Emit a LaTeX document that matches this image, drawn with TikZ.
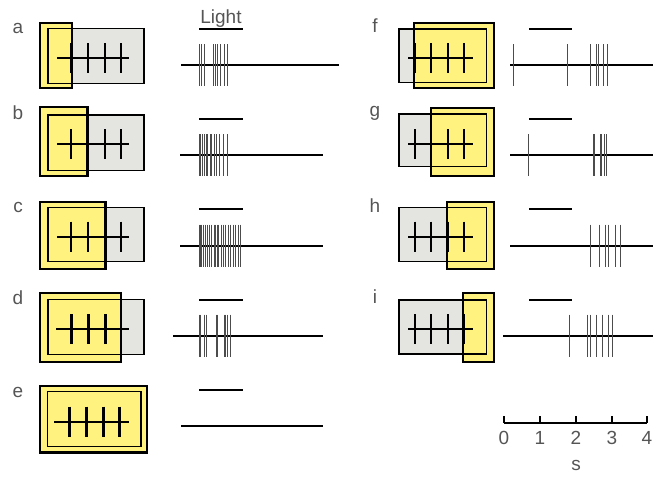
\documentclass[tikz,border=0pt]{standalone}
\usepackage{fontspec}
\setmainfont{Liberation Sans}
\definecolor{rfyellow}{HTML}{FFF27F}
\definecolor{rfgrey}{HTML}{E4E5E0}
\definecolor{labgrey}{HTML}{555555}
\newcommand{\rfbox}[8]{%
  \fill[greyfill] (#1,#3) rectangle (#2,#4);
  \filldraw[yellowbox] (#5,#7) rectangle (#6,#8);
  \draw[greybox] (#1,#3) rectangle (#2,#4);
}
\newcommand{\rfline}[4]{%
  \draw[rfaxis] (#2,#1) -- (#3,#1);
  \foreach \t in {#4} \draw[rftick] (\t,#1-15) -- (\t,#1+15);
}
\newcommand{\spiketrace}[4]{%
  \draw[tracebase] (#2,#1) -- (#3,#1);
  \foreach \s in {#4} \draw[spike] (\s,#1-21) -- (\s,#1+21);
}
\begin{document}
\begin{tikzpicture}[x=1pt,y=-1pt,
  greyfill/.style={fill=rfgrey},
  yellowbox/.style={fill=rfyellow,draw=black,line width=2.2pt},
  greybox/.style={draw=black,line width=1.5pt},
  rfaxis/.style={draw=black,line width=2pt},
  rftick/.style={draw=black,line width=2.8pt},
  tracebase/.style={draw=black,line width=1.6pt},
  spike/.style={draw=black!70,line width=1pt},
  lightbar/.style={draw=black,line width=2pt},
  scalebar/.style={draw=black,line width=1.8pt},
  panellabel/.style={text=labgrey,font=\fontsize{19}{19}\selectfont,inner sep=0pt},
  numlabel/.style={text=labgrey,font=\fontsize{19}{19}\selectfont,inner sep=0pt},
]
\useasboundingbox (0,0) rectangle (657,477);

% ---------- left column ----------
% a
\node[panellabel] (la) at (18,28) {a};
\rfbox{48}{144}{28.3}{83.3}{40}{72}{22.7}{88.3}
\rfline{58.3}{57}{129}{71,88,105,121}
\node[text=labgrey,font=\fontsize{19}{19}\selectfont,inner sep=0pt,anchor=base] (light) at (221,23) {Light};
\draw[lightbar] (199,29.3) -- (243,29.3);
\spiketrace{65}{181}{339}{199,201.5,204.5,213,215,217,220,224,227.5}

% b
\node[panellabel] (lb) at (18,113) {b};
\rfbox{48}{144}{115}{170.7}{40}{87.5}{107.3}{175.7}
\rfline{144}{57}{129}{71,88,105,121}
\draw[lightbar] (199,119) -- (243,119);
\spiketrace{155}{180}{323}{199.3,200.7,202.3,204.3,206,207.7,210,211.7,214,216.7,219,223.3,227.3}

% c
\node[panellabel] (lc) at (18,207) {c};
\rfbox{48}{144}{207.3}{261.7}{40}{105.5}{202.3}{269}
\rfline{236.7}{57}{129}{71,88,105,121}
\draw[lightbar] (199,209) -- (243,209);
\spiketrace{245.7}{180}{323}{199,200,201.5,203,205,207,209,211.5,214,215.5,217,218.5,221,223,225,228,230,233,235.5,238,240}

% d
\node[panellabel] (ld) at (18,298) {d};
\rfbox{48}{144}{299.3}{354.3}{40}{121}{293.3}{362.3}
\rfline{329.3}{56}{129}{71.5,88.5,105.5}
\draw[lightbar] (199,300.3) -- (243,300.3);
\spiketrace{335.7}{173}{323}{199,200.7,204.3,206.7,216,217.7,224,225.7,227.3,230}

% e
\node[panellabel] (le) at (18,392) {e};
\rfbox{47.5}{141}{391.7}{446.7}{40}{147}{386}{452.5}
\rfline{421.5}{54}{128.5}{69.5,86.5,103.5,119.5}
\draw[lightbar] (199,390) -- (243,390);
\draw[tracebase] (181,426) -- (323,426);

% ---------- right column ----------
% f
\node[panellabel] (lf) at (375,26) {f};
\rfbox{399}{486.7}{29}{82.7}{414.3}{494.3}{22.7}{88.3}
\rfline{58.3}{408}{473}{415,431,448,464}
\draw[lightbar] (529,29.3) -- (572,29.3);
\spiketrace{65}{510}{653}{513.3,567.7,590.7,596,598.3,603.3,607.3}

% g
\node[panellabel] (lg) at (375,113) {g};
\rfbox{399}{486.7}{114}{166.7}{430.7}{494.3}{108.3}{175.7}
\rfline{144}{408}{473}{415,431,448,464}
\draw[lightbar] (529,119) -- (572,119);
\spiketrace{155}{510}{653}{528.3,593.3,594.5,600,601.7,604,606}

% h
\node[panellabel] (lh) at (375,206) {h};
\rfbox{399}{486.7}{207.3}{261.7}{447.3}{494.3}{202.3}{269}
\rfline{236.7}{408}{473}{415,431,448,464}
\draw[lightbar] (529,209) -- (572,209);
\spiketrace{245.7}{510}{653}{590.7,599.3,605,608.3,615,620}

% i
\node[panellabel] (li) at (375,297) {i};
\rfbox{399}{486.7}{300}{354}{463.3}{494.3}{293.3}{362.3}
\rfline{329.3}{408}{473}{415,431,448,464}
\draw[lightbar] (529,300.3) -- (572,300.3);
\spiketrace{335.7}{503}{653}{569.3,587.3,590,596.7,602.7,608.3,612.7}

% ---------- scale bar ----------
\coordinate (s0) at (504,423);
\coordinate (s4) at (647,423);
\draw[scalebar] (s0) -- (s4);
\foreach \k/\x in {0/504,1/540,2/576,3/612,4/647}{
  \draw[scalebar] (\x,423) -- (\x,416);
  \node[numlabel] (n\k) at (\x,438) {\k};
}
\node[numlabel] (unit) at (576,465) {s};
\end{tikzpicture}
\end{document}
